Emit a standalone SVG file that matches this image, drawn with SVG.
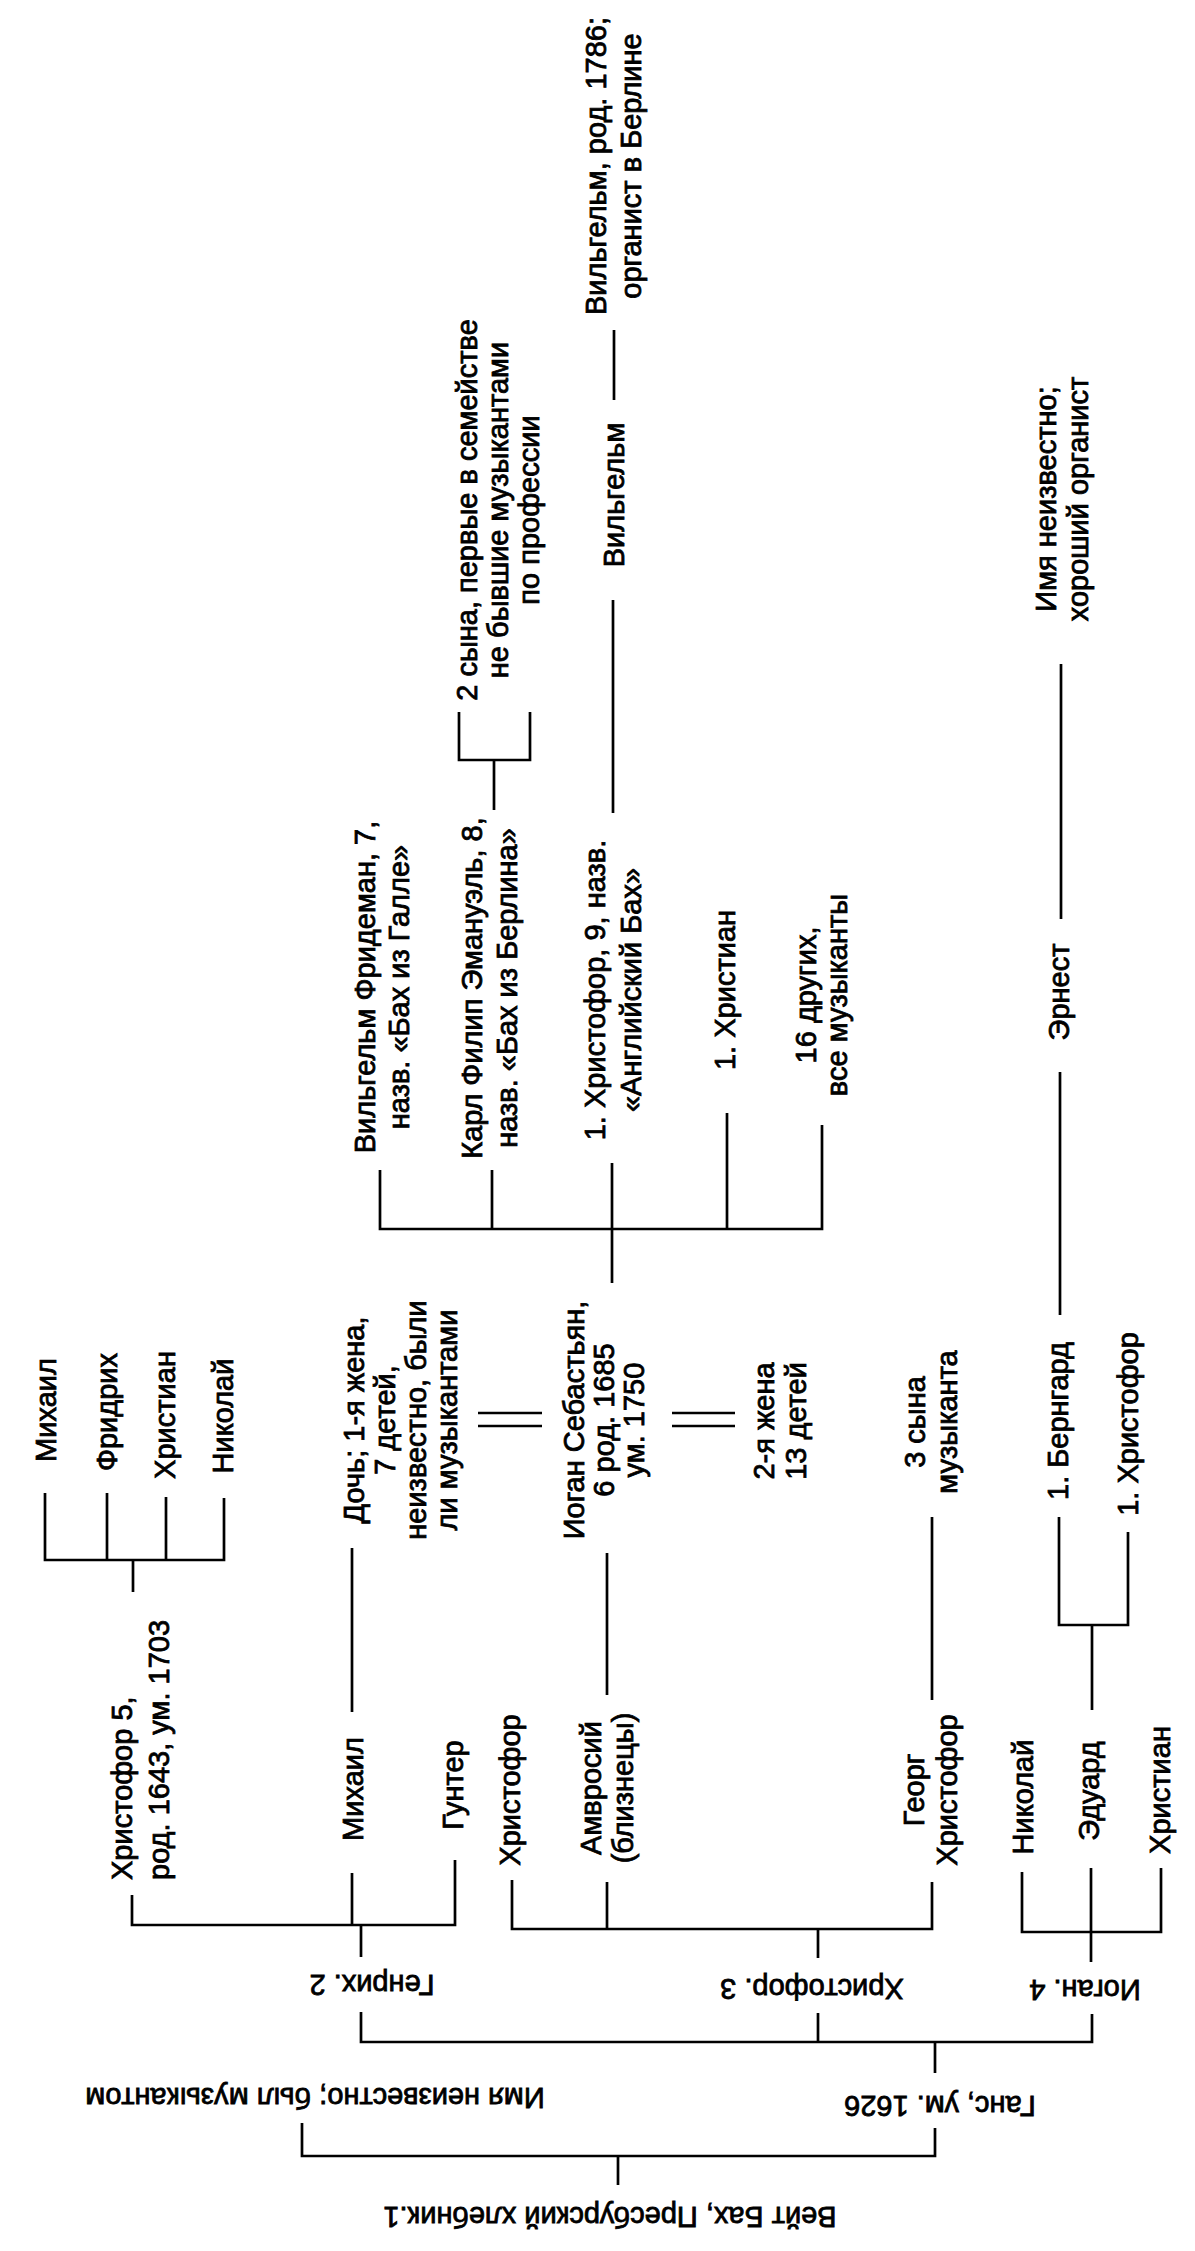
<svg xmlns="http://www.w3.org/2000/svg" width="1195" height="2251" viewBox="0 0 1195 2251">
<style>
.t{font-family:"Liberation Sans",Arial,"Noto Sans",sans-serif;font-size:29px;fill:#000;stroke:#000;stroke-width:0.8}
.m{text-anchor:middle}
.c{stroke:#000;stroke-width:2.7;fill:none}
</style>
<rect width="1195" height="2251" fill="#fff"/>
<g id="connectors" class="c">
<path d="M302 2123V2156H935V2128"/>
<path d="M618 2156V2185"/>
<path d="M935 2042V2073"/>
<path d="M361 2012V2042H1092V2014"/>
<path d="M818 2013V2042"/>
<path d="M361 1925V1957"/>
<path d="M132 1895V1925H455V1860"/>
<path d="M352 1873V1925"/>
<path d="M512 1880V1929H932V1882"/>
<path d="M607 1882V1929"/>
<path d="M818 1929V1958"/>
<path d="M1022 1872V1932H1161V1868"/>
<path d="M1091 1868V1962"/>
<path d="M133 1592V1560"/>
<path d="M45 1493V1560H224V1498"/>
<path d="M107 1493V1560"/>
<path d="M166 1497V1560"/>
<path d="M352 1548V1712"/>
<path d="M607 1553V1695"/>
<path d="M932 1517V1700"/>
<path d="M1092 1625V1710"/>
<path d="M1059 1517V1625H1128V1532"/>
<path d="M1060 1072V1315"/>
<path d="M1061 664V919"/>
<path d="M380 1170V1229H822V1125"/>
<path d="M492 1170V1229"/>
<path d="M612 1163V1283"/>
<path d="M727 1113V1229"/>
<path d="M494 760V810"/>
<path d="M459 712V760H530V712"/>
<path d="M613 600V813"/>
<path d="M614 330V400"/>
<path d="M478 1413H542M478 1426H542"/>
<path d="M672 1413H735M672 1426H735"/>
</g>
<g id="n1" class="t m"><text transform="translate(610,2207) rotate(180)">Вейт Бах, Пресбурский хлебник.1</text></g>
<g id="n2" class="t m"><text transform="translate(315,2088) rotate(180)">Имя неизвестно; был музыкантом</text></g>
<g id="n3" class="t m"><text transform="translate(940,2096) rotate(180)">Ганс, ум. 1626</text></g>
<g id="n4" class="t m"><text transform="translate(372,1975) rotate(180)">Генрих. 2</text></g>
<g id="n5" class="t m"><text transform="translate(812,1979) rotate(180)">Христофор. 3</text></g>
<g id="n6" class="t m"><text transform="translate(1085,1980) rotate(180)">Иоган. 4</text></g>
<g id="n7" class="t"><text transform="translate(132,1880) rotate(-90)"><tspan x="0" y="0">Христофор 5,</tspan><tspan x="0" y="37">род. 1643, ум. 1703</tspan></text></g>
<g id="n8" class="t m"><text transform="translate(56,1410) rotate(-90)">Михаил</text></g>
<g id="n9" class="t m"><text transform="translate(117,1412) rotate(-90)">Фридрих</text></g>
<g id="n10" class="t m"><text transform="translate(175,1415) rotate(-90)">Христиан</text></g>
<g id="n11" class="t m"><text transform="translate(233,1416) rotate(-90)">Николай</text></g>
<g id="n12" class="t m"><text transform="translate(363,1789) rotate(-90)">Михаил</text></g>
<g id="n13" class="t m"><text transform="translate(463,1785) rotate(-90)">Гунтер</text></g>
<g id="n14" class="t m"><text transform="translate(364,1420) rotate(-90)"><tspan x="0" y="0">Дочь; 1-я жена,</tspan><tspan x="0" y="31">7 детей,</tspan><tspan x="0" y="62">неизвестно, были</tspan><tspan x="0" y="93">ли музыкантами</tspan></text></g>
<g id="n15" class="t m"><text transform="translate(584,1420) rotate(-90)"><tspan x="0" y="0">Иоган Себастьян,</tspan><tspan x="0" y="30">6 род. 1685</tspan><tspan x="0" y="60">ум. 1750</tspan></text></g>
<g id="n16" class="t m"><text transform="translate(774,1421) rotate(-90)"><tspan x="0" y="0">2-я жена</tspan><tspan x="0" y="32">13 детей</tspan></text></g>
<g id="n17" class="t m"><text transform="translate(520,1790) rotate(-90)">Христофор</text></g>
<g id="n18" class="t m"><text transform="translate(601,1788) rotate(-90)"><tspan x="0" y="0">Амвросий</tspan><tspan x="0" y="32">(близнецы)</tspan></text></g>
<g id="n19" class="t m"><text transform="translate(924,1790) rotate(-90)"><tspan x="0" y="0">Георг</tspan><tspan x="0" y="33">Христофор</tspan></text></g>
<g id="n20" class="t m"><text transform="translate(1033,1797) rotate(-90)">Николай</text></g>
<g id="n21" class="t m"><text transform="translate(1099,1791) rotate(-90)">Эдуард</text></g>
<g id="n22" class="t m"><text transform="translate(1170,1790) rotate(-90)">Христиан</text></g>
<g id="n23" class="t m"><text transform="translate(925,1422) rotate(-90)"><tspan x="0" y="0">3 сына</tspan><tspan x="0" y="32">музыканта</tspan></text></g>
<g id="n24" class="t m"><text transform="translate(1068,1421) rotate(-90)">1. Бернгард</text></g>
<g id="n25" class="t m"><text transform="translate(1138,1424) rotate(-90)">1. Христофор</text></g>
<g id="n26" class="t m"><text transform="translate(375,987) rotate(-90)"><tspan x="0" y="0">Вильгельм Фридеман, 7,</tspan><tspan x="0" y="34">назв. «Бах из Галле»</tspan></text></g>
<g id="n27" class="t m"><text transform="translate(482,988) rotate(-90)"><tspan x="0" y="0">Карл Филип Эмануэль, 8,</tspan><tspan x="0" y="35">назв. «Бах из Берлина»</tspan></text></g>
<g id="n28" class="t m"><text transform="translate(605,990) rotate(-90)"><tspan x="0" y="0">1. Христофор, 9, назв.</tspan><tspan x="0" y="36">«Английский Бах»</tspan></text></g>
<g id="n29" class="t m"><text transform="translate(735,990) rotate(-90)">1. Христиан</text></g>
<g id="n30" class="t m"><text transform="translate(816,995) rotate(-90)"><tspan x="0" y="0">16 других,</tspan><tspan x="0" y="31">все музыканты</tspan></text></g>
<g id="n31" class="t m"><text transform="translate(477,510) rotate(-90)"><tspan x="0" y="0">2 сына, первые в семействе</tspan><tspan x="0" y="31">не бывшие музыкантами</tspan><tspan x="0" y="62">по профессии</tspan></text></g>
<g id="n32" class="t m"><text transform="translate(624,495) rotate(-90)">Вильгельм</text></g>
<g id="n33" class="t m"><text transform="translate(606,166) rotate(-90)"><tspan x="0" y="0">Вильгельм, род. 1786;</tspan><tspan x="0" y="35">органист в Берлине</tspan></text></g>
<g id="n34" class="t m"><text transform="translate(1069,992) rotate(-90)">Эрнест</text></g>
<g id="n35" class="t m"><text transform="translate(1056,499) rotate(-90)"><tspan x="0" y="0">Имя неизвестно;</tspan><tspan x="0" y="32">хороший органист</tspan></text></g>
</svg>
